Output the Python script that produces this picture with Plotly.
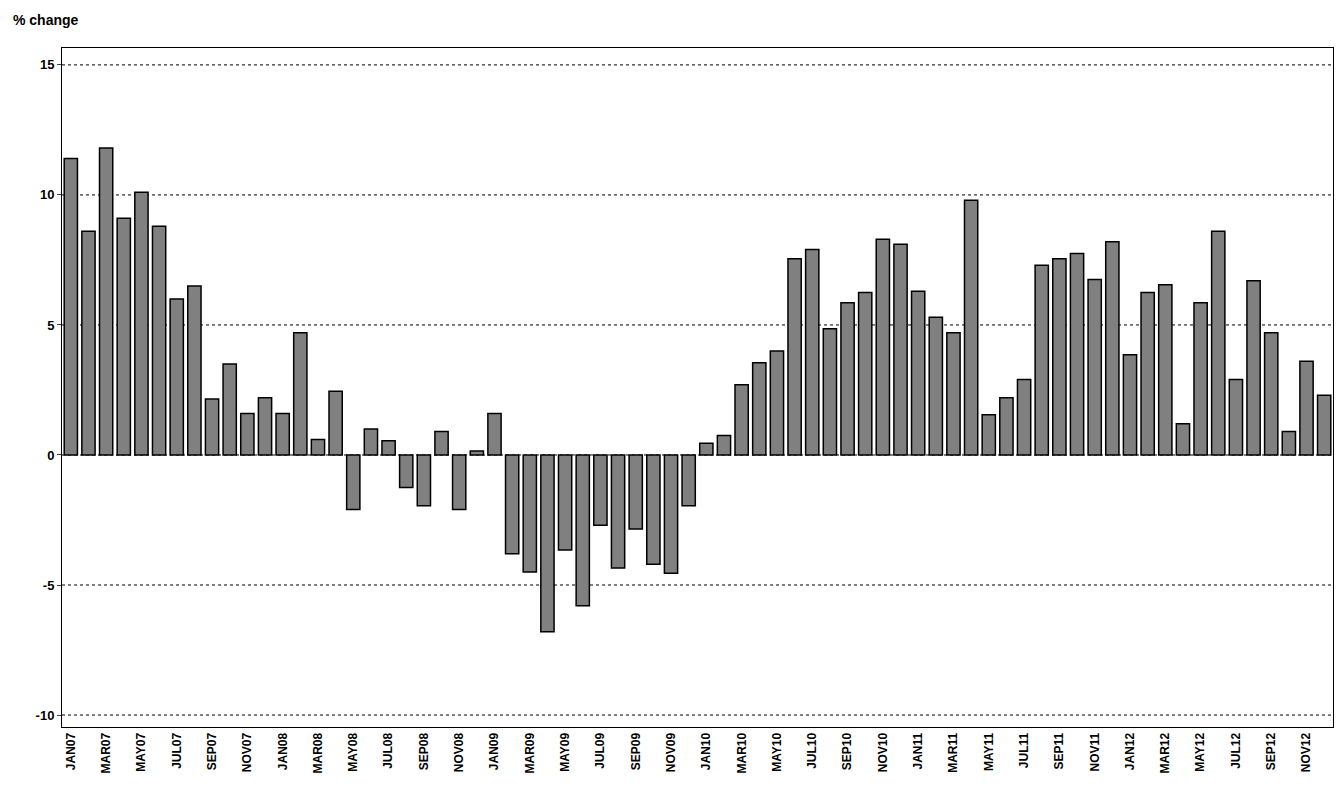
import plotly.graph_objects as go

months = ["JAN","FEB","MAR","APR","MAY","JUN","JUL","AUG","SEP","OCT","NOV","DEC"]
years = ["07","08","09","10","11","12"]
labels = [m + y for y in years for m in months]
values = [11.4,8.6,11.8,9.1,10.1,8.8,6.0,6.5,2.15,3.5,1.6,2.2,
          1.6,4.7,0.6,2.45,-2.1,1.0,0.55,-1.25,-1.95,0.9,-2.1,0.15,
          1.6,-3.8,-4.5,-6.8,-3.65,-5.8,-2.7,-4.35,-2.85,-4.2,-4.55,-1.95,
          0.45,0.75,2.7,3.55,4.0,7.55,7.9,4.85,5.85,6.25,8.3,8.1,
          6.3,5.3,4.7,9.8,1.55,2.2,2.9,7.3,7.55,7.75,6.75,8.2,
          3.85,6.25,6.55,1.2,5.85,8.6,2.9,6.7,4.7,0.9,3.6,2.3]
yticks = [-10, -5, 0, 5, 10, 15]

x = list(range(len(labels)))
fig = go.Figure(go.Bar(x=x, y=values, marker=dict(color="#808080", line=dict(color="black", width=1.5)), width=0.75))
for v in yticks:
    fig.add_shape(type="line", xref="paper", x0=0, x1=1, y0=v, y1=v, line=dict(color="black", width=1, dash="dot"), layer="below")
fig.update_layout(
    width=1328, height=786, plot_bgcolor="white", paper_bgcolor="white",
    margin=dict(l=54, r=3, t=40, b=67, autoexpand=False), showlegend=False,
    font=dict(family="Liberation Sans, Arial", size=13, color="black"),
    xaxis=dict(range=[-0.5, 71.5], tickmode="array", tickvals=x[::2], ticktext=["<b>%s</b>" % l for l in labels[::2]],
               tickangle=-90, tickfont=dict(size=12), automargin=False,
               showline=True, mirror=True, linecolor="black", linewidth=1, ticks="", showgrid=False),
    yaxis=dict(range=[-10.46, 15.65], tickvals=yticks, ticktext=["<b>%d</b>" % v for v in yticks],
               showgrid=False, zeroline=False, automargin=False,
               showline=True, mirror=True, linecolor="black", linewidth=1, ticks="outside", ticklen=4,
               tickfont=dict(size=13)),
    annotations=[dict(text="<b>% change</b>", xref="paper", yref="paper", x=-0.04, y=1.0, yshift=38,
                      xanchor="left", yanchor="top", showarrow=False, font=dict(size=14))],
)
fig.write_html("out.html")
